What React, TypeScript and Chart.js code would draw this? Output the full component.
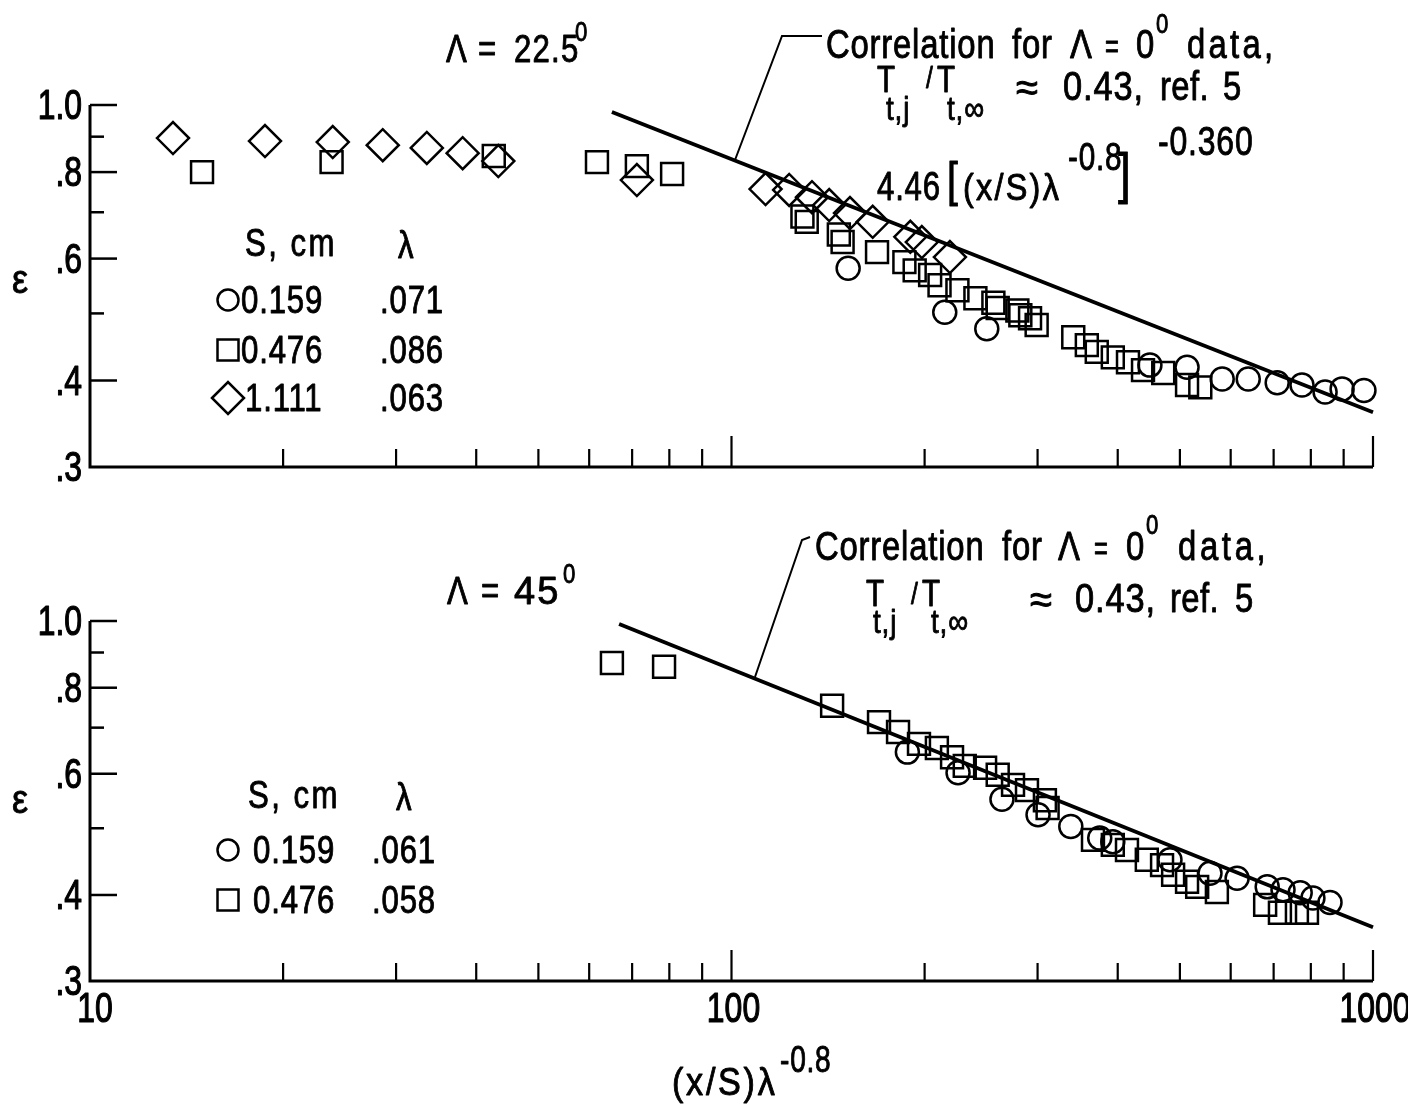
import React, { useEffect, useRef } from 'react';
import { Chart, registerables } from 'chart.js';

Chart.register(...registerables);

const FONT = '"Liberation Sans", Arial, sans-serif';

// ---------- axes ----------
const xTickValues = [10, 20, 30, 40, 50, 60, 70, 80, 90, 100, 200, 300, 400, 500, 600, 700, 800, 900, 1000];
const xMajorTicks = [100, 1000];
const xLabelValues = [10, 100, 1000];
const xLabelTexts = ['10', '100', '1000'];
const yTickValues = [0.3, 0.4, 0.5, 0.6, 0.7, 0.8, 0.9, 1.0];
const yMajorTicks = [1.0, 0.8, 0.6, 0.4];
const yLabelValues = [1.0, 0.8, 0.6, 0.4, 0.3];
const yLabelTexts = ['1.0', '.8', '.6', '.4', '.3'];

// ---------- top panel: Λ = 22.5° ----------
const topCircleX = [152, 215, 250, 449, 513, 582, 639, 709, 775, 842, 895, 968];
const topCircleY = [0.581, 0.502, 0.475, 0.421, 0.418, 0.402, 0.402, 0.397, 0.394, 0.385, 0.389, 0.387];

const topSquareX = [14.95, 23.8, 42.6, 61.7, 71.2, 80.8, 129, 131, 147, 149, 168.6, 186, 193, 204, 211, 225, 240, 256, 260, 279, 282, 292, 299, 341, 358, 371, 393, 415, 438, 471, 513, 538];
const topSquareY = [0.800, 0.827, 0.844, 0.827, 0.816, 0.795, 0.690, 0.678, 0.650, 0.634, 0.613, 0.593, 0.577, 0.568, 0.549, 0.540, 0.526, 0.518, 0.509, 0.505, 0.497, 0.492, 0.481, 0.462, 0.450, 0.440, 0.432, 0.425, 0.414, 0.410, 0.394, 0.391];

const topDiamondX = [13.47, 18.74, 23.9, 28.6, 33.5, 38.1, 43.3, 71.2, 113, 123, 133.5, 142, 153, 166, 190, 198, 219];
const topDiamondY = [0.896, 0.887, 0.884, 0.875, 0.867, 0.852, 0.830, 0.779, 0.756, 0.754, 0.736, 0.717, 0.698, 0.678, 0.645, 0.634, 0.603];

const topCorrX = [65.1, 1000];
const topCorrY = [0.977, 0.360];

// ---------- bottom panel: Λ = 45° ----------
const botCircleX = [188, 225.5, 264, 300.5, 338, 375, 393, 482.5, 557, 614, 684, 724, 770, 806, 857];
const botCircleY = [0.645, 0.602, 0.551, 0.523, 0.503, 0.484, 0.478, 0.450, 0.430, 0.423, 0.411, 0.407, 0.403, 0.396, 0.390];

const botSquareX = [65.1, 78.5, 143.5, 169.8, 181.8, 196, 209, 220.7, 231, 248.5, 260, 274.7, 288.8, 308, 311, 366, 393, 413.5, 444, 469, 488, 513, 532, 571, 679, 716, 761, 789];
const botSquareY = [0.869, 0.858, 0.753, 0.713, 0.690, 0.663, 0.654, 0.634, 0.616, 0.612, 0.598, 0.578, 0.568, 0.549, 0.535, 0.481, 0.473, 0.465, 0.450, 0.442, 0.428, 0.418, 0.411, 0.404, 0.387, 0.377, 0.377, 0.377];

const botCorrX = [66.8, 1000];
const botCorrY = [0.990, 0.359];

const zip = (xs: number[], ys: number[]) => xs.map((x, i) => ({ x, y: ys[i] }));

// ---------- drawing helpers ----------
type TOpts = { sx?: number; align?: 'left' | 'right' | 'center'; ls?: number; sw?: number };
function T(ctx: CanvasRenderingContext2D, s: string, x: number, y: number, size: number, o: TOpts = {}) {
  const sx = o.sx ?? 0.82;
  const align = o.align ?? 'left';
  ctx.save();
  ctx.font = `${size}px ${FONT}`;
  (ctx as any).letterSpacing = `${o.ls ?? 1}px`;
  ctx.fillStyle = '#000';
  ctx.strokeStyle = '#000';
  ctx.lineWidth = o.sw ?? 0.9;
  ctx.lineJoin = 'round';
  ctx.textBaseline = 'alphabetic';
  const w = ctx.measureText(s).width * sx;
  let ox = x;
  if (align === 'right') ox = x - w;
  if (align === 'center') ox = x - w / 2;
  ctx.translate(ox, y);
  ctx.scale(sx, 1);
  ctx.fillText(s, 0, 0);
  if (ctx.lineWidth > 0) ctx.strokeText(s, 0, 0);
  ctx.restore();
}

function line(ctx: CanvasRenderingContext2D, pts: number[][], w: number) {
  ctx.save();
  ctx.strokeStyle = '#000';
  ctx.lineWidth = w;
  ctx.lineJoin = 'miter';
  ctx.beginPath();
  pts.forEach((p, i) => (i ? ctx.lineTo(p[0], p[1]) : ctx.moveTo(p[0], p[1])));
  ctx.stroke();
  ctx.restore();
}

function sym(ctx: CanvasRenderingContext2D, kind: string, x: number, y: number) {
  ctx.save();
  ctx.strokeStyle = '#000';
  ctx.lineWidth = 2.5;
  ctx.beginPath();
  if (kind === 'circle') ctx.arc(x, y, 10.5, 0, Math.PI * 2);
  else if (kind === 'rect') ctx.rect(x - 10.5, y - 10.5, 21, 21);
  else {
    ctx.moveTo(x - 16, y);
    ctx.lineTo(x, y - 16);
    ctx.lineTo(x + 16, y);
    ctx.lineTo(x, y + 16);
    ctx.closePath();
  }
  ctx.stroke();
  ctx.restore();
}

function makeAxesPlugin(showXLabels: boolean) {
  return {
    id: 'axesDraw',
    beforeDatasetsDraw(chart: any) {
      const ctx: CanvasRenderingContext2D = chart.ctx;
      const xs = chart.scales.x;
      const ys = chart.scales.y;
      const x0 = xs.getPixelForValue(10);
      const x1 = xs.getPixelForValue(1000);
      const yTop = ys.getPixelForValue(1.0);
      const yBot = ys.getPixelForValue(0.3);
      line(ctx, [[x0, yTop], [x0, yBot], [x1, yBot]], 3);
      yTickValues.forEach((v) => {
        if (v === 0.3) return;
        const p = ys.getPixelForValue(v);
        const len = yMajorTicks.some((m) => Math.abs(m - v) < 1e-9) ? 27 : 14;
        line(ctx, [[x0, p], [x0 + len, p]], 2.5);
      });
      xTickValues.forEach((v) => {
        if (v === 10) return;
        const p = xs.getPixelForValue(v);
        const len = xMajorTicks.includes(v) ? 31 : 18;
        line(ctx, [[p, yBot], [p, yBot - len]], 2.2);
      });
      yLabelValues.forEach((v, i) => {
        const p = ys.getPixelForValue(v);
        T(ctx, yLabelTexts[i], 82, p + 14, 42, { align: 'right', sx: 0.76, ls: 0, sw: 1.2 });
      });
      if (showXLabels) {
        xLabelValues.forEach((v, i) => {
          const p = xs.getPixelForValue(v) + (v === 10 ? 5 : 2);
          T(ctx, xLabelTexts[i], p, yBot + 41, 42, { align: 'center', sx: 0.76, ls: 0, sw: 1.2 });
        });
      }
    },
  };
}

const topTextPlugin = {
  id: 'topText',
  afterDraw(chart: any) {
    const ctx: CanvasRenderingContext2D = chart.ctx;
    T(ctx, 'ε', 12, 293, 40, { sx: 0.9, ls: 0 });
    T(ctx, 'Λ', 446, 62, 38);
    T(ctx, '=', 478, 62, 38);
    T(ctx, '22.5', 514, 62, 38, { ls: 1.5 });
    T(ctx, '0', 575, 41, 27);
    line(ctx, [[735, 160], [782, 36], [822, 36]], 2);
    // correlation label
    T(ctx, 'Correlation', 826, 58, 40);
    T(ctx, 'for', 1012, 58, 40);
    T(ctx, 'Λ', 1070, 58, 40);
    T(ctx, '=', 1105, 58, 34, { sx: 0.7 });
    T(ctx, '0', 1136, 58, 40);
    T(ctx, '0', 1156, 33, 27);
    T(ctx, 'data,', 1187, 58, 40, { ls: 4 });
    T(ctx, 'T', 877, 92, 36);
    T(ctx, 't,j', 886, 120, 34);
    T(ctx, '/', 926, 88, 30);
    T(ctx, 'T', 937, 92, 36);
    T(ctx, 't,∞', 947, 120, 34);
    T(ctx, '≈', 1016, 101, 40, { sx: 1 });
    T(ctx, '0.43,', 1063, 100, 40, { sx: 0.86 });
    T(ctx, 'ref.', 1160, 100, 40, { ls: 0.5 });
    T(ctx, '5', 1223, 100, 40);
    T(ctx, '-0.360', 1158, 155, 40, { sx: 0.8 });
    T(ctx, '4.46', 877, 200, 40, { sx: 0.78 });
    T(ctx, '[', 947, 196, 48);
    T(ctx, '(x/S)λ', 963, 200, 36, { sx: 0.9, ls: 2.5 });
    T(ctx, '-0.8', 1068, 170, 38, { sx: 0.78 });
    T(ctx, ']', 1118, 192, 56);
    // legend
    T(ctx, 'S, cm', 245, 256, 38, { ls: 3 });
    T(ctx, 'λ', 398, 258, 38);
    sym(ctx, 'circle', 228, 300);
    T(ctx, '0.159', 241, 313, 38);
    T(ctx, '.071', 380, 313, 38);
    sym(ctx, 'rect', 228, 350);
    T(ctx, '0.476', 241, 363, 38);
    T(ctx, '.086', 380, 363, 38);
    sym(ctx, 'diamond', 228, 398);
    T(ctx, '1.111', 245, 411, 38);
    T(ctx, '.063', 380, 411, 38);
  },
};

const BOT_OFF = 500;
const botTextPlugin = {
  id: 'botText',
  afterDraw(chart: any) {
    const ctx: CanvasRenderingContext2D = chart.ctx;
    const o = BOT_OFF;
    T(ctx, 'ε', 12, 813 - o, 40, { sx: 0.9, ls: 0 });
    T(ctx, 'Λ', 447, 604 - o, 38);
    T(ctx, '=', 481, 604 - o, 38);
    T(ctx, '45', 514, 604 - o, 38, { sx: 1, ls: 2 });
    T(ctx, '0', 563, 583 - o, 27);
    line(ctx, [[755, 677 - o], [802, 540 - o], [810, 537 - o]], 2);
    T(ctx, 'Correlation', 815, 560 - o, 40);
    T(ctx, 'for', 1002, 560 - o, 40);
    T(ctx, 'Λ', 1058, 560 - o, 40);
    T(ctx, '=', 1094, 560 - o, 34, { sx: 0.7 });
    T(ctx, '0', 1126, 560 - o, 40);
    T(ctx, '0', 1146, 534 - o, 27);
    T(ctx, 'data,', 1178, 560 - o, 40, { ls: 4.5 });
    T(ctx, 'T', 866, 606 - o, 36);
    T(ctx, 't,j', 873, 633 - o, 34);
    T(ctx, '/', 911, 604 - o, 30);
    T(ctx, 'T', 922, 606 - o, 36);
    T(ctx, 't,∞', 931, 633 - o, 34);
    T(ctx, '≈', 1030, 613 - o, 40, { sx: 1 });
    T(ctx, '0.43,', 1075, 612 - o, 40, { sx: 0.86 });
    T(ctx, 'ref.', 1170, 612 - o, 40, { ls: 0.5 });
    T(ctx, '5', 1235, 612 - o, 40);
    // legend
    T(ctx, 'S, cm', 248, 808 - o, 38, { ls: 3 });
    T(ctx, 'λ', 396, 810 - o, 38);
    sym(ctx, 'circle', 228, 850 - o);
    T(ctx, '0.159', 253, 863 - o, 38);
    T(ctx, '.061', 372, 863 - o, 38);
    sym(ctx, 'rect', 228, 900 - o);
    T(ctx, '0.476', 253, 913 - o, 38);
    T(ctx, '.058', 372, 913 - o, 38);
    // x-axis title
    T(ctx, '(x/S)λ', 672, 1095 - o, 38, { sx: 0.9, ls: 3 });
    T(ctx, '-0.8', 780, 1072 - o, 36, { sx: 0.78 });
  },
};

const markerBase = {
  showLine: false,
  borderColor: '#000',
  backgroundColor: 'rgba(0,0,0,0)',
  borderWidth: 2.5,
  clip: false as any,
};

function corrDataset(xs: number[], ys: number[]) {
  return {
    label: 'Correlation',
    data: zip(xs, ys),
    showLine: true,
    pointRadius: 0,
    borderColor: '#000',
    borderWidth: 3.8,
    fill: false,
    clip: false as any,
  };
}

function makeOptions(padTop: number, padBottom: number) {
  return {
    responsive: false,
    animation: false as const,
    devicePixelRatio: 1,
    events: [] as any[],
    layout: { padding: { left: 90, right: 35, top: padTop, bottom: padBottom } },
    plugins: { legend: { display: false }, tooltip: { enabled: false } },
    scales: {
      x: {
        type: 'logarithmic' as const,
        min: 10,
        max: 1000,
        display: false,
        afterBuildTicks: (s: any) => {
          s.ticks = xTickValues.map((v) => ({ value: v }));
        },
      },
      y: {
        type: 'logarithmic' as const,
        min: 0.3,
        max: 1.0,
        display: false,
        afterBuildTicks: (s: any) => {
          s.ticks = yTickValues.map((v) => ({ value: v }));
        },
      },
    },
  };
}

export default function App() {
  const topRef = useRef<HTMLCanvasElement>(null);
  const botRef = useRef<HTMLCanvasElement>(null);

  useEffect(() => {
    const top = new Chart(topRef.current as HTMLCanvasElement, {
      type: 'scatter',
      data: {
        datasets: [
          corrDataset(topCorrX, topCorrY),
          { ...markerBase, label: '0.159', data: zip(topCircleX, topCircleY), pointStyle: 'circle', pointRadius: 11.5 },
          { ...markerBase, label: '0.476', data: zip(topSquareX, topSquareY), pointStyle: 'rect', pointRadius: 15.5 },
          { ...markerBase, label: '1.111', data: zip(topDiamondX, topDiamondY), pointStyle: 'rectRot', pointRadius: 16 },
        ] as any,
      },
      options: makeOptions(105, 33) as any,
      plugins: [makeAxesPlugin(false), topTextPlugin],
    });
    const bot = new Chart(botRef.current as HTMLCanvasElement, {
      type: 'scatter',
      data: {
        datasets: [
          corrDataset(botCorrX, botCorrY),
          { ...markerBase, label: '0.159', data: zip(botCircleX, botCircleY), pointStyle: 'circle', pointRadius: 11.5 },
          { ...markerBase, label: '0.476', data: zip(botSquareX, botSquareY), pointStyle: 'rect', pointRadius: 15.5 },
        ] as any,
      },
      options: makeOptions(121, 123) as any,
      plugins: [makeAxesPlugin(true), botTextPlugin],
    });
    return () => {
      top.destroy();
      bot.destroy();
    };
  }, []);

  return (
    <div style={{ position: 'absolute', left: 0, top: 0, width: 1408, height: 1104, background: '#fff' }}>
      <canvas ref={topRef} width={1408} height={500} style={{ position: 'absolute', left: 0, top: 0, width: 1408, height: 500 }} />
      <canvas ref={botRef} width={1408} height={604} style={{ position: 'absolute', left: 0, top: BOT_OFF, width: 1408, height: 604 }} />
    </div>
  );
}
